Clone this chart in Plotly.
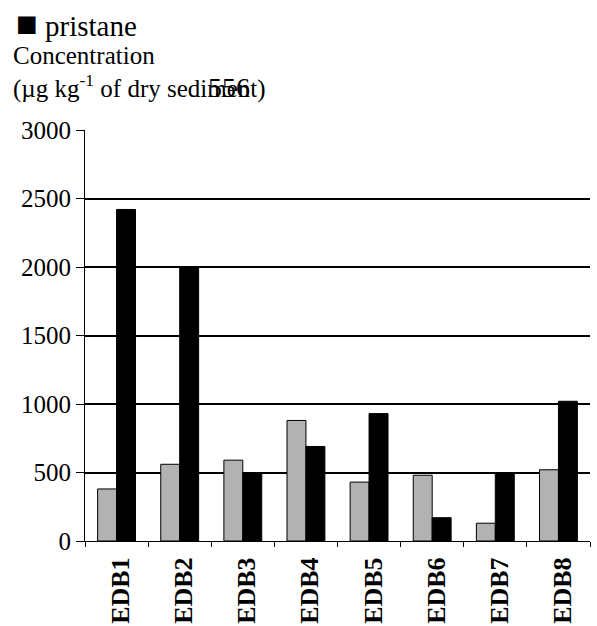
import plotly.graph_objects as go

categories = ["EDB1", "EDB2", "EDB3", "EDB4", "EDB5", "EDB6", "EDB7", "EDB8"]
series_a_name = "series 1"
series_a = [380, 560, 590, 880, 430, 480, 130, 520]
series_b_name = "pristane"
series_b = [2420, 2000, 500, 690, 930, 170, 500, 1020]
y_ticks = [0, 500, 1000, 1500, 2000, 2500, 3000]

FONT = "Liberation Serif"

W, H = 597, 626
ML, MR, MT, MB = 85, 7, 130, 85

fig = go.Figure()
fig.add_trace(go.Bar(x=categories, y=series_a, name=series_a_name,
                     marker=dict(color="#B2B2B2", line=dict(color="black", width=1)),
                     showlegend=False))
fig.add_trace(go.Bar(x=categories, y=series_b, name=series_b_name,
                     marker=dict(color="black", line=dict(color="black", width=1)),
                     showlegend=False))

fig.update_layout(
    width=W, height=H,
    margin=dict(l=ML, r=MR, t=MT, b=MB, autoexpand=False),
    paper_bgcolor="white", plot_bgcolor="white",
    barmode="group", bargap=0.4, bargroupgap=0,
    font=dict(family=FONT, color="black"),
    xaxis=dict(showline=True, linecolor="black", linewidth=1, automargin=False,
               ticks="outside", tickson="boundaries", ticklen=5, tickcolor="black",
               tickangle=-90, tickfont=dict(size=26, family=FONT, weight="bold"),
               ticklabelstandoff=5, ticklabelshift=4,
               showgrid=False),
    yaxis=dict(range=[0, 3000], tickvals=y_ticks, showline=True, linecolor="black", linewidth=1,
               automargin=False,
               ticks="outside", ticklen=8, tickcolor="black",
               tickfont=dict(size=25, family=FONT),
               showgrid=True, gridcolor="black", gridwidth=1.5, zeroline=False),
)


def px_to_paper(x, y):
    pw = W - ML - MR
    ph = H - MT - MB
    return (x - ML) / pw, (H - MB - y) / ph


ax, ay = px_to_paper(14, 2)
fig.add_annotation(x=ax, y=ay, xref="paper", yref="paper",
                   text="<span style='font-size:36px'>■</span> " + series_b_name,
                   showarrow=False, xanchor="left", yanchor="top",
                   font=dict(size=29, family=FONT, color="black"))

tx, ty = px_to_paper(11, 40)
fig.add_annotation(x=tx, y=ty, xref="paper", yref="paper",
                   text="Concentration<br>(µg kg<sup>-1</sup> of dry sediment)",
                   showarrow=False, xanchor="left", yanchor="top", align="left",
                   font=dict(size=25, family=FONT, color="black"))
nx, ny = px_to_paper(206, 70)
fig.add_annotation(x=nx, y=ny, xref="paper", yref="paper", text="556",
                   showarrow=False, xanchor="left", yanchor="top",
                   font=dict(size=28, family=FONT, color="black"))

fig.write_html("out.html", config={"displayModeBar": False},
               post_script="document.body.style.margin='0';")
